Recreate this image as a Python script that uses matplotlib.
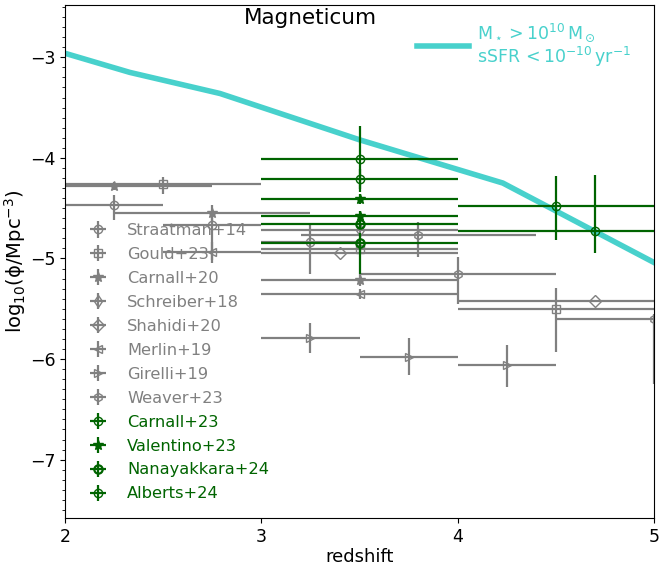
import matplotlib
matplotlib.use("Agg")
import matplotlib.pyplot as plt
import numpy as np

GRAY = "#808080"
GREEN = "#006400"
TURQ = "mediumturquoise"

# Magneticum quiescent number density
mag_z = [2.0, 2.33, 2.79, 3.5, 4.23, 5.0]
mag_phi = [-2.96, -3.15, -3.36, -3.82, -4.25, -5.04]

# observations: z, log phi, xerr (lo, hi), yerr (lo, hi)
straatman_z = [2.25, 2.75, 3.25]
straatman_phi = [-4.47, -4.67, -4.84]
straatman_xerr = [[0.25, 0.25, 0.25], [0.25, 0.25, 0.25]]
straatman_yerr = [[0.15, 0.35, 0.31], [0.10, 0.12, 0.17]]

gould_z = [2.5, 3.5, 4.5]
gould_phi = [-4.26, -4.91, -5.50]
gould_xerr = [[0.5, 0.5, 0.5], [0.5, 0.5, 0.5]]
gould_yerr = [[0.10, 0.05, 0.43], [0.07, 0.05, 0.21]]

carnall20_z = [2.25, 2.75, 3.5]
carnall20_phi = [-4.28, -4.55, -5.21]
carnall20_xerr = [[0.5, 0.5, 0.5], [0.5, 0.5, 0.5]]
carnall20_yerr = [[0.04, 0.10, 0.06], [0.04, 0.08, 0.06]]

schreiber_z = [3.5]
schreiber_phi = [-4.72]
schreiber_xerr = [[0.5], [0.5]]
schreiber_yerr = [[0.05], [0.05]]

shahidi_z = [3.4, 4.7]
shahidi_phi = [-4.95, -5.42]
shahidi_xerr = [[0.4, 0.7], [0.6, 0.4]]
shahidi_yerr = [[0.0, 0.0], [0.0, 0.0]]

merlin_z = [2.75, 3.5]
merlin_phi = [-4.94, -5.35]
merlin_xerr = [[0.25, 0.5], [0.25, 0.5]]
merlin_yerr = [[0.10, 0.05], [0.10, 0.05]]

girelli_z = [3.25, 3.75, 4.25]
girelli_phi = [-5.79, -5.98, -6.06]
girelli_xerr = [[0.25, 0.25, 0.25], [0.25, 0.25, 0.25]]
girelli_yerr = [[0.15, 0.18, 0.22], [0.15, 0.19, 0.20]]

weaver_z = [3.8, 4.0, 5.0]
weaver_phi = [-4.77, -5.15, -5.60]
weaver_xerr = [[0.6, 0.5, 0.5], [0.6, 0.5, 0.5]]
weaver_yerr = [[0.22, 0.30, 0.65], [0.13, 0.16, 0.05]]

carnall23_z = [3.5, 4.5]
carnall23_phi = [-4.01, -4.48]
carnall23_xerr = [[0.5, 0.5], [0.5, 0.6]]
carnall23_yerr = [[0.33, 0.34], [0.33, 0.30]]

valentino_z = [3.5, 3.5]
valentino_phi = [-4.41, -4.58]
valentino_xerr = [[0.5, 0.5], [0.5, 0.5]]
valentino_yerr = [[0.05, 0.05], [0.05, 0.05]]

nanayakkara_z = [3.5, 3.5]
nanayakkara_phi = [-4.66, -4.85]
nanayakkara_xerr = [[0.5, 0.5], [0.5, 0.5]]
nanayakkara_yerr = [[0.05, 0.30], [0.05, 0.10]]

alberts_z = [3.5, 4.7]
alberts_phi = [-4.21, -4.73]
alberts_xerr = [[0.5, 0.7], [0.5, 0.4]]
alberts_yerr = [[0.10, 0.22], [0.10, 0.56]]

gray_sets = [
    ("Straatman+14", "o", False, straatman_z, straatman_phi, straatman_xerr, straatman_yerr),
    ("Gould+23", "s", False, gould_z, gould_phi, gould_xerr, gould_yerr),
    ("Carnall+20", "*", True, carnall20_z, carnall20_phi, carnall20_xerr, carnall20_yerr),
    ("Schreiber+18", "d", False, schreiber_z, schreiber_phi, schreiber_xerr, schreiber_yerr),
    ("Shahidi+20", "D", False, shahidi_z, shahidi_phi, shahidi_xerr, shahidi_yerr),
    ("Merlin+19", "<", False, merlin_z, merlin_phi, merlin_xerr, merlin_yerr),
    ("Girelli+19", ">", False, girelli_z, girelli_phi, girelli_xerr, girelli_yerr),
    ("Weaver+23", "h", False, weaver_z, weaver_phi, weaver_xerr, weaver_yerr),
]
green_sets = [
    ("Carnall+23", "o", False, carnall23_z, carnall23_phi, carnall23_xerr, carnall23_yerr),
    ("Valentino+23", "*", True, valentino_z, valentino_phi, valentino_xerr, valentino_yerr),
    ("Nanayakkara+24", "o", False, nanayakkara_z, nanayakkara_phi, nanayakkara_xerr, nanayakkara_yerr),
    ("Alberts+24", "o", False, alberts_z, alberts_phi, alberts_xerr, alberts_yerr),
]

fig = plt.figure(figsize=(6.59, 5.68), dpi=100)
ax = fig.add_axes([65 / 659, 1 - 518 / 568, (654 - 65) / 659, (518 - 5) / 568])

handles = []
for color, sets in ((GRAY, gray_sets), (GREEN, green_sets)):
    for label, marker, filled, z, phi, xe, ye in sets:
        ms = 7 if marker == "*" else 6
        mew = 1.6 if label == "Nanayakkara+24" else 1.0
        h = ax.errorbar(z, phi, xerr=np.array(xe), yerr=np.array(ye),
                        fmt=marker, color=color, ecolor=color,
                        mfc=color if filled else "none", mec=color,
                        ms=ms, mew=mew, elinewidth=1.6, capsize=0,
                        label=label, zorder=3 if color == GREEN else 2)
        handles.append(h)

mag_line, = ax.plot(mag_z, mag_phi, color=TURQ, lw=4, zorder=2.5,
                    label="M$_\\star > 10^{10}\\,$M$_\\odot$\nsSFR$\\,< 10^{-10}\\,$yr$^{-1}$")

leg = ax.legend(handles=handles, loc="lower left", frameon=False,
                fontsize=11.7, labelspacing=0.55, borderaxespad=0.62)
for txt, h in zip(leg.get_texts(), handles):
    txt.set_color(h[0].get_color())
ax.add_artist(leg)

leg2 = ax.legend(handles=[mag_line], loc="upper right", frameon=False,
                 fontsize=12.5, handlelength=3.0, handletextpad=0.5,
                 borderaxespad=0, bbox_to_anchor=(0.9735, 0.982),
                 labelspacing=0.3)
for txt in leg2.get_texts():
    txt.set_color(TURQ)
    txt.set_linespacing(1.05)

ax.text(0.416, 0.995, "Magneticum", transform=ax.transAxes, ha="center",
        va="top", fontsize=15.5)

ax.set_xlim(2, 5)
ax.set_ylim(-7.58, -2.48)
ax.set_xticks([2, 3, 4, 5])
ax.set_yticks([-7, -6, -5, -4, -3])
ax.set_yticks(np.arange(-7.5, -2.45, 0.1), minor=True)
ax.tick_params(labelsize=12.5)
ax.set_xlabel("redshift", fontsize=13, labelpad=2)
ax.set_ylabel("log$_{10}$(\u03d5/Mpc$^{-3}$)", fontsize=14, labelpad=1)

fig.savefig("out.png", dpi=100)
